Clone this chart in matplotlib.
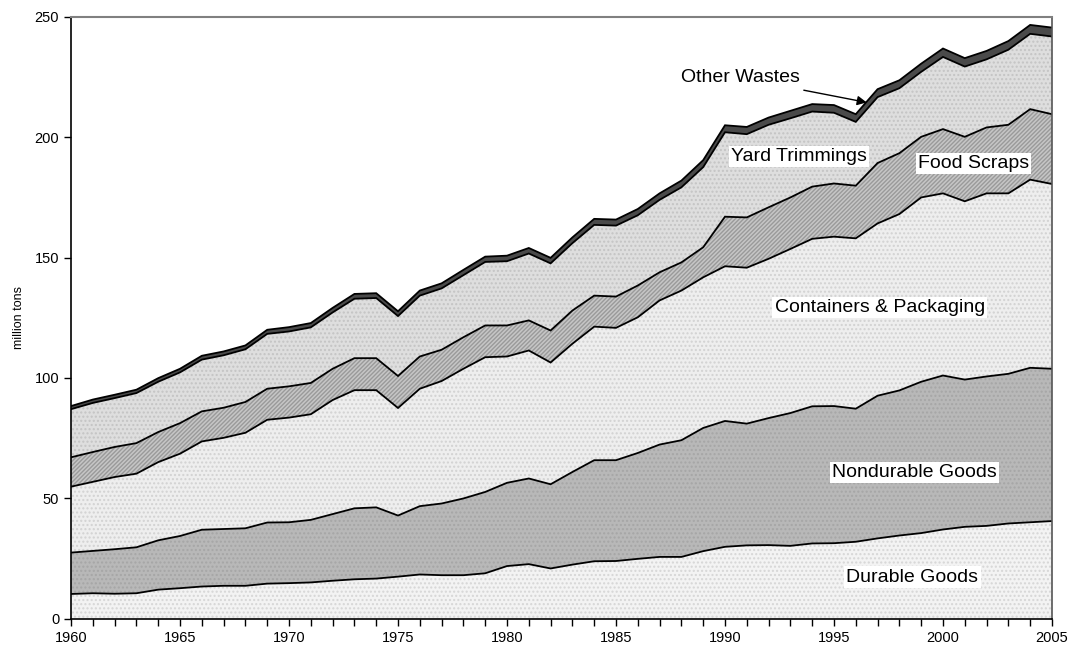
import numpy as np
import matplotlib
matplotlib.use("Agg")
import matplotlib.pyplot as plt

plt.rcParams["font.family"] = ["Liberation Sans", "DejaVu Sans"]

years = np.arange(1960, 2006)

durable_goods = [
    10.2, 10.5, 10.3, 10.5, 12.0, 12.6, 13.3, 13.6, 13.6, 14.5,
    14.7, 15.0, 15.7, 16.3, 16.6, 17.4, 18.3, 18.0, 18.0, 18.8,
    21.8, 22.6, 20.8, 22.4, 23.8, 23.9, 24.8, 25.6, 25.6, 28.0,
    29.8, 30.4, 30.5, 30.2, 31.2, 31.3, 31.9, 33.3, 34.5, 35.5,
    37.0, 38.1, 38.5, 39.5, 40.0, 40.5,
]
nondurable_goods = [
    17.2, 17.6, 18.5, 19.1, 20.5, 21.7, 23.6, 23.6, 23.9, 25.4,
    25.3, 26.0, 27.7, 29.5, 29.6, 25.4, 28.4, 29.8, 31.9, 33.8,
    34.6, 35.6, 35.0, 38.5, 42.0, 41.9, 44.0, 46.7, 48.5, 51.2,
    52.3, 50.6, 52.8, 55.2, 57.0, 57.0, 55.3, 59.3, 60.3, 62.9,
    64.0, 61.2, 62.1, 62.2, 64.2, 63.3,
]
containers_packaging = [
    27.4, 28.7, 30.0, 30.6, 32.5, 34.2, 36.7, 37.9, 39.7, 42.7,
    43.5, 43.9, 47.4, 49.1, 48.7, 44.7, 48.8, 50.9, 53.9, 56.0,
    52.5, 53.2, 50.6, 53.3, 55.5, 55.0, 56.4, 59.9, 62.2, 62.6,
    64.3, 64.8, 66.2, 68.2, 69.6, 70.4, 70.8, 71.6, 73.3, 76.6,
    75.7, 74.1, 76.1, 75.0, 78.2, 76.8,
]
food_scraps = [
    12.2, 12.4, 12.5, 12.7, 12.5, 12.7, 12.5, 12.5, 12.8, 12.9,
    13.0, 13.0, 13.0, 13.3, 13.3, 13.3, 13.4, 13.0, 13.1, 13.2,
    12.9, 12.5, 13.3, 13.8, 12.9, 13.0, 13.2, 11.7, 11.7, 12.5,
    20.6, 20.9, 21.4, 21.4, 21.7, 22.1, 21.9, 25.1, 25.3, 25.2,
    26.7, 26.8, 27.4, 28.5, 29.3, 29.0,
]
yard_trimmings = [
    20.0, 20.4, 20.3, 20.8, 20.9, 21.1, 21.5, 21.8, 21.9, 22.8,
    22.8, 23.1, 23.4, 24.7, 25.0, 24.9, 25.3, 25.5, 25.8, 26.4,
    26.7, 27.8, 27.9, 28.0, 29.4, 29.5, 29.2, 30.1, 31.2, 33.3,
    35.1, 34.6, 34.3, 32.9, 31.2, 29.4, 26.5, 27.4, 27.0, 27.0,
    30.0, 29.2, 28.3, 31.2, 31.3, 32.3,
]
other_wastes = [
    1.3, 1.4, 1.4, 1.4, 1.5, 1.5, 1.6, 1.6, 1.6, 1.7,
    1.8, 1.8, 1.9, 2.0, 2.0, 2.0, 2.1, 2.1, 2.2, 2.2,
    2.3, 2.3, 2.3, 2.4, 2.5, 2.5, 2.6, 2.7, 2.8, 2.9,
    2.9, 3.0, 3.0, 3.1, 3.1, 3.2, 3.2, 3.3, 3.3, 3.4,
    3.5, 3.5, 3.5, 3.6, 3.7, 3.7,
]

series = [durable_goods, nondurable_goods, containers_packaging,
          food_scraps, yard_trimmings, other_wastes]
# face colour, hatch, hatch colour
styles = [
    ("#f3f3f3", "....", "#d6d6d6"),
    ("#b8b8b8", "....", "#a6a6a6"),
    ("#eeeeee", "....", "#d2d2d2"),
    ("#c6c6c6", "////////", "#9a9a9a"),
    ("#dedede", "....", "#c4c4c4"),
    ("#4a4a4a", None, None),
]

fig = plt.figure(figsize=(10.73, 6.51), dpi=100)
ax = fig.add_axes([0.0662, 0.0499, 0.9142, 0.924])

bottom = np.zeros(len(years))
for vals, (fc, hatch, hc) in zip(series, styles):
    top = bottom + np.array(vals)
    ax.fill_between(years, bottom, top, facecolor=fc, edgecolor="none", lw=0)
    if hatch:
        ax.fill_between(years, bottom, top, facecolor="none", edgecolor=hc,
                        hatch=hatch, lw=0)
    ax.plot(years, top, color="black", lw=1.3, solid_joinstyle="miter")
    bottom = top

ax.set_xlim(1960, 2005)
ax.set_ylim(0, 250)
ax.set_xticks(np.arange(1960, 2006, 5))
ax.set_xticks(years, minor=True)
ax.set_yticks(np.arange(0, 251, 50))
ax.tick_params(axis="both", which="both", direction="out", length=5,
               width=1, labelsize=10.5, color="black")
ax.tick_params(axis="x", pad=4)
ax.set_ylabel("million tons", fontsize=9, labelpad=7)

for s in ["left", "bottom"]:
    ax.spines[s].set_color("black")
    ax.spines[s].set_linewidth(1.2)
ax.spines["top"].set_color("#808080")
ax.spines["top"].set_linewidth(1.5)
ax.spines["right"].set_color("#555555")
ax.spines["right"].set_linewidth(1.2)

box = dict(facecolor="white", edgecolor="none", pad=1.5)
ax.text(1993.4, 192.0, "Yard Trimmings", fontsize=14, ha="center",
        va="center", bbox=box)
ax.text(2001.4, 189.0, "Food Scraps", fontsize=14, ha="center",
        va="center", bbox=box)
ax.text(1997.1, 129.3, "Containers & Packaging", fontsize=14, ha="center",
        va="center", bbox=box)
ax.text(1998.7, 60.8, "Nondurable Goods", fontsize=14, ha="center",
        va="center", bbox=box)
ax.text(1998.6, 17.2, "Durable Goods", fontsize=14, ha="center",
        va="center", bbox=box)
ax.annotate("Other Wastes", xy=(1996.5, 214.5), xytext=(1990.7, 224.7),
            fontsize=14, ha="center", va="center",
            arrowprops=dict(arrowstyle="-|>", color="black", lw=1,
                            mutation_scale=14, shrinkA=4, shrinkB=0))

fig.savefig("out.png", dpi=100)
